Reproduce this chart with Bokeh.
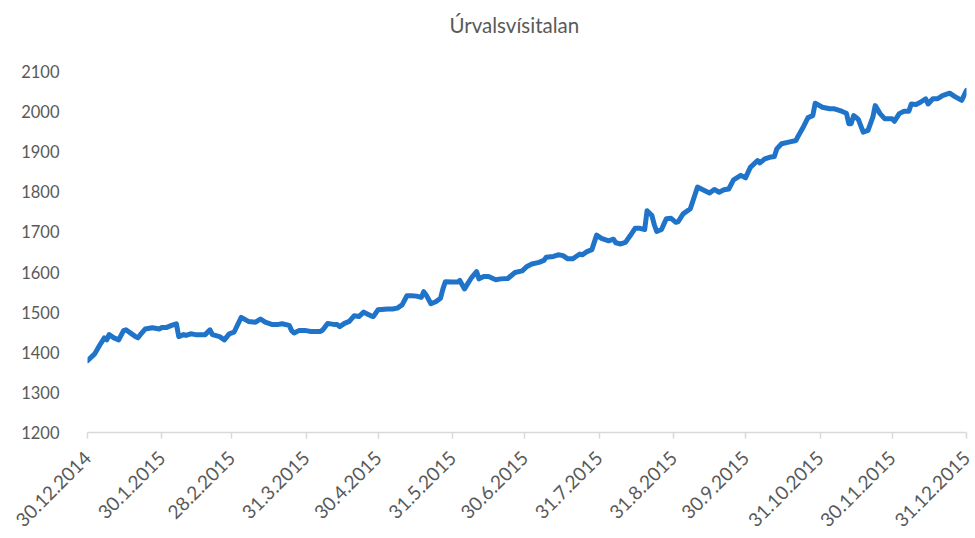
import pandas as pd
from math import pi
from bokeh.plotting import figure
from bokeh.models import Range1d, FixedTicker, Title
from bokeh.embed import file_html
from bokeh.resources import INLINE

# ---- data ----
start_date = "2014-12-30"
day_offsets = [0, 3, 5, 7, 8, 9, 11, 13, 15, 16, 20, 21, 22, 24, 27, 30, 31, 33, 35, 37,
               38, 40, 41, 43, 45, 49, 51, 52, 55, 57, 59, 61, 64, 67, 70, 72, 74, 77, 79, 81,
               84, 85, 86, 88, 91, 93, 97, 98, 100, 103, 104, 105, 107, 109, 111, 113, 115, 118, 119, 121,
               125, 127, 129, 131, 133, 135, 137, 139, 140, 141, 143, 145, 147, 148, 149, 152, 154, 155, 157, 158,
               160, 162, 163, 165, 167, 170, 172, 175, 178, 181, 183, 185, 188, 190, 191, 194, 196, 198, 200, 202,
               203, 205, 206, 208, 210, 211, 212, 214, 217, 219, 220, 222, 224, 226, 228, 230, 232, 233, 235, 236,
               237, 239, 241, 243, 245, 246, 248, 251, 254, 256, 259, 261, 263, 265, 267, 269, 272, 274, 276, 279,
               280, 282, 284, 286, 287, 289, 292, 295, 296, 298, 300, 302, 303, 306, 309, 311, 314, 316, 317, 318,
               319, 320, 321, 323, 325, 327, 328, 330, 332, 335, 336, 338, 340, 342, 343, 345, 347, 349, 350, 352,
               354, 356, 359, 361, 364, 366]
index_values = [1379, 1396, 1417, 1436, 1431, 1444, 1436, 1431, 1454, 1456, 1439, 1436, 1444, 1458, 1461, 1458, 1462, 1462, 1467, 1471,
                1439, 1444, 1442, 1446, 1444, 1444, 1456, 1444, 1439, 1431, 1446, 1450, 1487, 1477, 1475, 1483, 1475, 1469, 1469, 1471,
                1467, 1454, 1448, 1454, 1454, 1452, 1452, 1456, 1472, 1469, 1469, 1464, 1472, 1477, 1491, 1489, 1500, 1491, 1489, 1506,
                1508, 1508, 1510, 1518, 1541, 1541, 1540, 1537, 1551, 1543, 1521, 1526, 1535, 1558, 1576, 1575, 1575, 1579, 1558, 1568,
                1587, 1601, 1583, 1589, 1589, 1581, 1583, 1584, 1599, 1603, 1614, 1620, 1624, 1629, 1637, 1639, 1643, 1641, 1633, 1633,
                1637, 1645, 1643, 1651, 1656, 1674, 1692, 1684, 1678, 1682, 1673, 1670, 1674, 1691, 1709, 1709, 1706, 1753, 1741, 1718,
                1701, 1706, 1733, 1734, 1724, 1726, 1745, 1758, 1812, 1806, 1797, 1806, 1799, 1805, 1807, 1830, 1841, 1835, 1861, 1878,
                1872, 1882, 1886, 1888, 1907, 1920, 1924, 1928, 1940, 1961, 1985, 1990, 2021, 2011, 2007, 2007, 2001, 1996, 1970, 1970,
                1990, 1986, 1980, 1949, 1953, 1986, 2015, 1995, 1982, 1982, 1976, 1995, 2001, 2001, 2019, 2018, 2024, 2032, 2019, 2032,
                2032, 2040, 2046, 2038, 2028, 2053]
tick_labels = ["30.12.2014", "30.1.2015", "28.2.2015", "31.3.2015", "30.4.2015", "31.5.2015",
               "30.6.2015", "31.7.2015", "31.8.2015", "30.9.2015", "31.10.2015", "30.11.2015", "31.12.2015"]
y_ticks = [1200, 1300, 1400, 1500, 1600, 1700, 1800, 1900, 2000, 2100]
title_text = "Úrvalsvísitalan"

start = pd.Timestamp(start_date)
tick_days = [(pd.to_datetime(t, format="%d.%m.%Y") - start).days for t in tick_labels]

FONT = "Lato"
GREY = "#595959"

p = figure(width=975, height=536, output_backend="svg", toolbar_location=None,
           x_range=Range1d(0, tick_days[-1]), y_range=Range1d(y_ticks[0], y_ticks[-1]),
           min_border_left=87, min_border_right=9, min_border_top=71, min_border_bottom=104,
           title=title_text)

p.outline_line_color = None
p.grid.grid_line_color = None
p.background_fill_color = "white"
p.border_fill_color = "white"

# main title (outermost panel)
p.title.align = "left"
p.title.offset = 362
p.title.vertical_align = "middle"
p.title.standoff = 10
p.title.text_font = FONT
p.title.text_font_size = "20.5px"
p.title.text_font_style = "normal"
p.title.text_color = GREY

# blank spacer between the title and the plot frame
p.add_layout(Title(text=" ", text_font_size="1px", standoff=26), "above")

p.line(day_offsets, index_values, line_color="#1F74C9", line_width=5,
       line_join="round", line_cap="round")

ya = p.yaxis[0]
ya.ticker = FixedTicker(ticks=y_ticks)
ya.axis_line_color = None
ya.major_tick_line_color = None
ya.minor_tick_line_color = None
ya.major_label_standoff = 22
ya.major_label_text_font = FONT
ya.major_label_text_font_size = "16.5px"
ya.major_label_text_color = GREY

xa = p.xaxis[0]
xa.ticker = FixedTicker(ticks=tick_days)
xa.major_label_overrides = {d: lbl for d, lbl in zip(tick_days, tick_labels)}
xa.major_label_orientation = pi / 4
xa.axis_line_color = "#D9D9D9"
xa.axis_line_width = 1.5
xa.major_tick_line_color = "#D9D9D9"
xa.major_tick_line_width = 1.5
xa.major_tick_in = 0
xa.major_tick_out = 6
xa.minor_tick_line_color = None
xa.major_label_standoff = 16
xa.major_label_text_font = FONT
xa.major_label_text_font_size = "19px"
xa.major_label_text_color = GREY

open("out.html", "w").write(file_html(p, INLINE))
